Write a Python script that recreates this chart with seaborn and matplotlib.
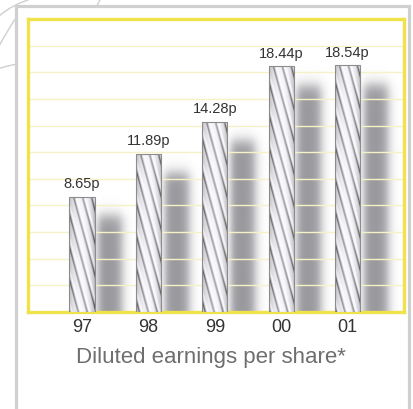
import numpy as np
import pandas as pd
import matplotlib
matplotlib.use("Agg")
import matplotlib.pyplot as plt
from matplotlib.path import Path
from matplotlib.patches import PathPatch, Rectangle
import seaborn as sns

# Diluted earnings per share, pence
years = ["97", "98", "99", "00", "01"]
eps = [8.65, 11.89, 14.28, 18.44, 18.54]
label_texts = ["8.65p", "11.89p", "14.28p", "18.44p", "18.54p"]
title = "Diluted earnings per share*"

sns.set_style("white")
plt.rcParams["font.family"] = ["Liberation Sans", "DejaVu Sans"]

W, H = 414, 409
fig = plt.figure(figsize=(W / 100, H / 100), dpi=100)
fig.patch.set_facecolor("white")

# ---- background: decorative arcs and the grey-bordered panel (pixel coords)
bg = fig.add_axes([0, 0, 1, 1], zorder=-5)
bg.set_xlim(0, W)
bg.set_ylim(H, 0)
bg.axis("off")
deco = "#cfcfcf"
for verts in (
    [(-2, 17), (8, 8), (20, 2), (34, -2)],
    [(-2, 48), (5, 35), (11, 25), (18, 15)],
    [(-2, 69), (6, 66), (12, 65), (18, 64)],
    [(101, -2), (99, 2), (97, 5), (96, 8)],
):
    path = Path(verts, [Path.MOVETO, Path.CURVE4, Path.CURVE4, Path.CURVE4])
    bg.add_patch(PathPatch(path, fill=False, edgecolor=deco, lw=1.0))
bg.add_patch(Rectangle((16.5, 6), 393, 420, facecolor="white",
                       edgecolor="#d0d0d0", lw=2.3))

# ---- main chart
left, right, top, bottom = 28, 404, 19, 312
ax = fig.add_axes([left / W, 1 - bottom / H, (right - left) / W, (bottom - top) / H])
ax.set_facecolor("white")

df = pd.DataFrame({"year": years, "eps": eps})
sns.barplot(data=df, x="year", y="eps", order=years, width=0.38,
            color="white", ax=ax, zorder=4)

xmin, xmax, ymin, ymax = -0.813, 4.85, 0, 22
px_x = (right - left) / (xmax - xmin)
px_y = (bottom - top) / (ymax - ymin)

bars = list(ax.patches)
for p, v in zip(bars, eps):
    x0, w = p.get_x(), p.get_width()
    xc = x0 + w / 2
    p.set_facecolor("none")
    p.set_edgecolor("#8c8c8c")
    p.set_linewidth(0.8)

    # twisted-wire texture clipped to the bar
    wpx = max(int(round(w * px_x)), 2)
    hpx = max(int(round(v * px_y)), 2)
    C, R = np.meshgrid(np.arange(wpx) + 0.5, np.arange(hpx) + 0.5)
    u = C / wpx
    base = 0.68 + 0.30 * np.sin(np.pi * u) ** 0.5
    phase = ((C - R / 3.8) / 8.5) % 1.0
    dark = np.exp(-((phase - 0.5) / 0.10) ** 2)
    light = np.exp(-((phase - 0.78) / 0.12) ** 2)
    val = np.clip(base - 0.42 * dark + 0.12 * light, 0, 1)
    rgb = np.dstack([val * 0.98, val * 0.98, val])
    im = ax.imshow(rgb, extent=(x0, x0 + w, 0, v), origin="upper",
                   aspect="auto", interpolation="bilinear", zorder=3)
    im.set_clip_path(p)

    # soft drop shadow to the right of each bar
    sx0, sx1 = xc + 0.05, xc + 0.85
    ncol = 60
    nrow = max(int(round(v * px_y)), 2)
    d = np.linspace(0.05, 0.85, ncol)
    ax_prof = (1 / (1 + np.exp(-(d - 0.24) / 0.035))) * (1 / (1 + np.exp((d - 0.60) / 0.045)))
    yy = np.linspace(v, 0, nrow)
    sh_top = v - 1.45
    ay_prof = 1 / (1 + np.exp((yy - sh_top) / 0.3))
    alpha = 0.68 * np.outer(ay_prof, ax_prof)
    shade = np.zeros((nrow, ncol, 4))
    shade[..., 0] = 0.40
    shade[..., 1] = 0.40
    shade[..., 2] = 0.43
    shade[..., 3] = alpha
    ax.imshow(shade, extent=(sx0, sx1, 0, v), origin="upper", aspect="auto",
              interpolation="bilinear", zorder=1)

ax.bar_label(ax.containers[0], labels=label_texts, padding=4,
             fontsize=10.5, color="#333333")

ax.set_xlim(xmin, xmax)
ax.set_ylim(ymin, ymax)
ax.set_yticks(np.arange(0, 23, 2))
ax.set_axisbelow("line")
ax.grid(axis="y", color="#f5f2c8", lw=1.0)
ax.grid(axis="x", visible=False)
ax.tick_params(axis="y", length=0, labelleft=False)
ax.tick_params(axis="x", length=0, pad=5, labelsize=13, labelcolor="#333333")
ax.set_xlabel("")
ax.set_ylabel("")
for s in ax.spines.values():
    s.set_visible(True)
    s.set_color("#f0e24a")
    s.set_linewidth(2.4)

fig.text(211 / W, 1 - 358 / H, title, ha="center", va="center",
         fontsize=16, color="#6e6e6e")

fig.savefig("out.png", dpi=100, facecolor="white")
